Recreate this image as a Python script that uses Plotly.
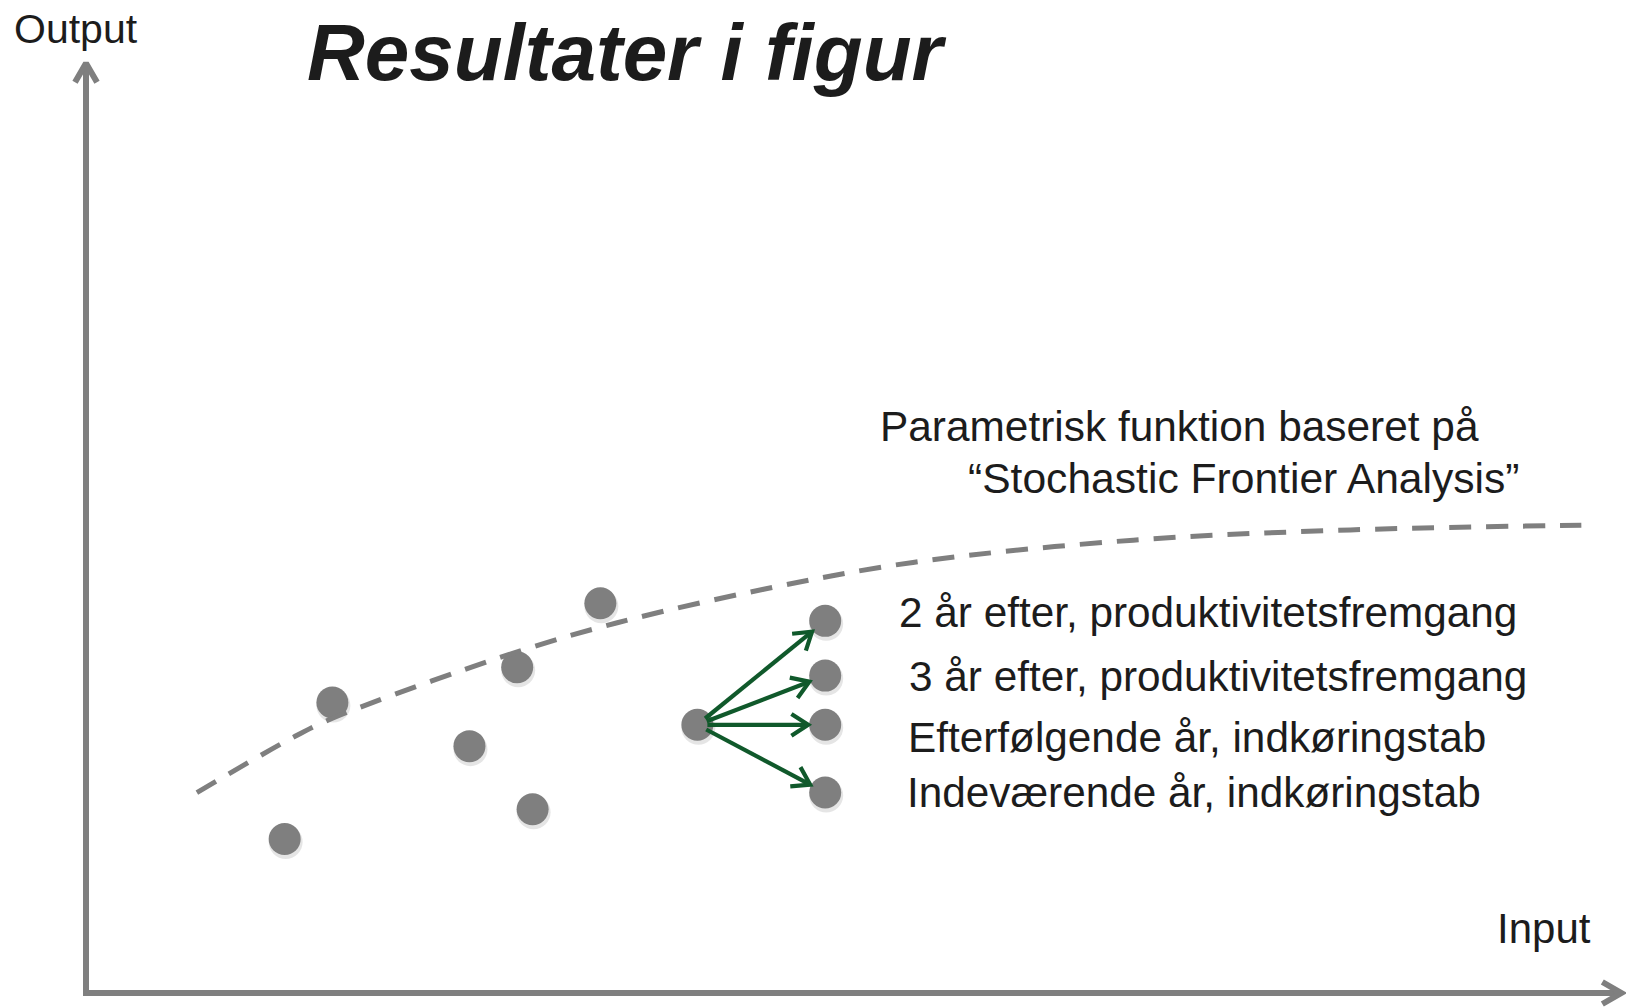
import math
import plotly.graph_objects as go

# ---------------- data ----------------
scatter_input = [12.9, 16.0, 24.9, 28.0, 29.0, 33.4]
scatter_output = [16.6, 31.3, 26.6, 35.1, 19.8, 42.0]

source_input = 39.7
source_output = 28.9

target_input = 48.0
target_outputs = [40.1, 34.2, 28.9, 21.6]
target_labels = [
    "2 år efter, produktivitetsfremgang",
    "3 år efter, produktivitetsfremgang",
    "Efterfølgende år, indkøringstab",
    "Indeværende år, indkøringstab",
]

frontier_input = [7.2, 13.4, 16.0, 27.7, 34.5, 44.0, 53.7, 68.0, 82.1, 97.1]
frontier_output = [21.6, 27.5, 29.6, 36.6, 39.9, 43.5, 46.4, 48.8, 49.9, 50.4]

frontier_label_1 = "Parametrisk funktion baseret på"
frontier_label_2 = "“Stochastic Frontier Analysis”"
title_text = "Resultater i figur"
x_label = "Input"
y_label = "Output"

input_axis_max = 99.7
output_axis_max = 100.2

# ---------------- layout geometry ----------------
W, H = 1626, 1007
X0_PX, Y0_PX = 86, 993          # origin of the drawn axes in page pixels
SX, SY = 15.4, 9.28             # pixels per data unit

GRAY = "#7f7f7f"
GREEN = "#10592b"
TEXT = "#1c1c1c"
FONT = "Liberation Sans, Arial, Helvetica, sans-serif"


def to_px(x, y):
    return X0_PX + x * SX, Y0_PX - y * SY


def to_data(px, py):
    return (px - X0_PX) / SX, (Y0_PX - py) / SY


def chevron(x_from, y_from, x_tip, y_tip, arm, ang):
    fx, fy = to_px(x_from, y_from)
    tx, ty = to_px(x_tip, y_tip)
    dx, dy = tx - fx, ty - fy
    n = math.hypot(dx, dy)
    bx, by = -dx / n, -dy / n
    pts = []
    for s in (1, -1):
        a = math.radians(ang) * s
        rx = bx * math.cos(a) - by * math.sin(a)
        ry = bx * math.sin(a) + by * math.cos(a)
        pts.append(to_data(tx + arm * rx, ty + arm * ry))
    return [pts[0][0], x_tip, pts[1][0]], [pts[0][1], y_tip, pts[1][1]]


fig = go.Figure()

# ---- axes with open arrow heads ----
ybot = to_data(X0_PX, Y0_PX + 3)[1]
xleft = to_data(X0_PX - 3, Y0_PX)[0]
fig.add_trace(go.Scatter(x=[0, 0], y=[ybot, output_axis_max], mode="lines",
                         line=dict(color=GRAY, width=6), hoverinfo="skip"))
fig.add_trace(go.Scatter(x=[xleft, input_axis_max], y=[0, 0], mode="lines",
                         line=dict(color=GRAY, width=6), hoverinfo="skip"))
cx, cy = chevron(0, 0, 0, output_axis_max, 22, 30)
fig.add_trace(go.Scatter(x=cx, y=cy, mode="lines", line=dict(color=GRAY, width=6),
                         hoverinfo="skip"))
cx, cy = chevron(0, 0, input_axis_max, 0, 22, 30)
fig.add_trace(go.Scatter(x=cx, y=cy, mode="lines", line=dict(color=GRAY, width=6),
                         hoverinfo="skip"))

# ---- points (with faint shadow) ----
all_x = scatter_input + [source_input] + [target_input] * len(target_outputs)
all_y = scatter_output + [source_output] + target_outputs
sh = [to_data(to_px(a, b)[0] + 1, to_px(a, b)[1] + 3) for a, b in zip(all_x, all_y)]
fig.add_trace(go.Scatter(x=[p[0] for p in sh], y=[p[1] for p in sh], mode="markers",
                         marker=dict(size=34, color="rgba(0,0,0,0.10)", line=dict(width=0)),
                         hoverinfo="skip"))
fig.add_trace(go.Scatter(x=all_x, y=all_y, mode="markers",
                         marker=dict(size=32, color=GRAY, line=dict(width=0)),
                         hoverinfo="skip"))

# ---- dashed frontier ----
fig.add_trace(go.Scatter(x=frontier_input, y=frontier_output, mode="lines",
                         line=dict(color=GRAY, width=5, dash="22px,15px", shape="spline",
                                   smoothing=1.0),
                         hoverinfo="skip"))

# ---- green arrows ----
sx_px, sy_px = to_px(source_input, source_output)
for ty in target_outputs:
    tx_px, ty_px = to_px(target_input, ty)
    dx, dy = tx_px - sx_px, ty_px - sy_px
    n = math.hypot(dx, dy)
    ux, uy = dx / n, dy / n
    start = to_data(sx_px + ux * 10, sy_px + uy * 10)
    end = to_data(tx_px - ux * 17, ty_px - uy * 17)
    fig.add_trace(go.Scatter(x=[start[0], end[0]], y=[start[1], end[1]], mode="lines",
                             line=dict(color=GREEN, width=4.2), hoverinfo="skip"))
    cx, cy = chevron(start[0], start[1], end[0], end[1], 20, 33)
    fig.add_trace(go.Scatter(x=cx, y=cy, mode="lines", line=dict(color=GREEN, width=4.2),
                             hoverinfo="skip"))


# ---- text ----
def ann(text, px, py, size, **font_kw):
    fig.add_annotation(text=text, xref="paper", yref="paper", x=px / W, y=1 - py / H,
                       xanchor="left", yanchor="middle", showarrow=False,
                       font=dict(family=FONT, size=size, color=TEXT, **font_kw))


ann(y_label, 12, 29, 41)
ann(x_label, 1495, 928, 42)
ann(title_text, 305, 53, 80, weight="bold", style="italic")
ann(frontier_label_1, 878, 426, 42.4)
ann(frontier_label_2, 966, 478, 42.6)

label_px = [897, 907, 906, 905]
label_py = [612, 676, 737, 792]
for lab, lx, ly in zip(target_labels, label_px, label_py):
    ann(lab, lx, ly, 42.3)

xr = [to_data(0, 0)[0], to_data(W, 0)[0]]
yr = [to_data(0, H)[1], to_data(0, 0)[1]]
fig.update_layout(
    width=W, height=H, margin=dict(l=0, r=0, t=0, b=0),
    paper_bgcolor="white", plot_bgcolor="white", showlegend=False,
    xaxis=dict(range=xr, visible=False, fixedrange=True),
    yaxis=dict(range=yr, visible=False, fixedrange=True),
    hovermode=False,
)

fig.write_html("out.html", config={"displayModeBar": False},
               post_script="document.body.style.margin='0';document.body.style.overflow='hidden';")
